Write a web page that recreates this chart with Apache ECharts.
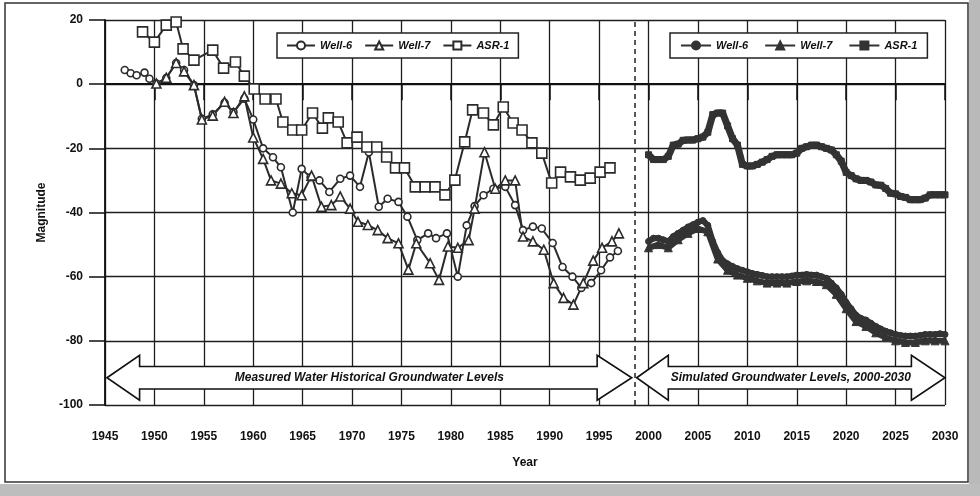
<!DOCTYPE html>
<html><head><meta charset="utf-8">
<script src="https://cdn.jsdelivr.net/npm/echarts@6/dist/echarts.min.js"></script>
<style>html,body{margin:0;padding:0;background:#fff}#c{width:980px;height:496px}</style>
</head><body><div id="c"></div>
<script>
// ---------- data ----------
const seriesNames = ['Well-6', 'Well-7', 'ASR-1'];
const simNames = ['Well-6 sim', 'Well-7 sim', 'ASR-1 sim'];
const yTicks = [-100, -80, -60, -40, -20, 0, 20];

// historical (measured)
const w6HistYears = [1947.0,1947.6,1948.2,1949.0,1949.5,1950.2,1951.2,1952.2,1953.0,1954.0,1954.8,1955.9,1957.1,1958.0,1959.1,1960.0,1961.0,1962.0,1962.8,1964.0,1964.9,1965.8,1966.7,1967.7,1968.8,1969.8,1970.8,1971.7,1972.7,1973.6,1974.7,1975.6,1976.6,1977.7,1978.5,1979.6,1980.7,1981.6,1982.4,1983.3,1984.3,1985.5,1986.5,1987.3,1988.3,1989.2,1990.3,1991.3,1992.3,1993.2,1994.2,1995.2,1996.1,1996.9];
const w6Hist = [4.4,3.4,2.8,3.6,1.7,0.2,1.9,6.6,4.4,-0.3,-10.8,-9.4,-5.8,-8.7,-4.5,-11,-20,-22.8,-25.9,-40,-26.4,-29,-30,-33.6,-29.5,-28.5,-32,-21.2,-38.2,-35.7,-36.7,-41.3,-48.6,-46.5,-48,-46.5,-60,-44,-38,-34.6,-32.6,-32,-37.7,-45.5,-44.4,-45,-49.5,-57,-60,-63.5,-62,-58,-54,-52];

const w7HistYears = [1950.2,1951.2,1952.2,1953.0,1954.0,1954.8,1955.9,1957.1,1958.0,1959.1,1960.0,1961.0,1961.8,1962.8,1963.9,1964.9,1965.9,1966.9,1967.9,1968.8,1969.8,1970.6,1971.6,1972.6,1973.6,1974.7,1975.7,1976.5,1977.9,1978.8,1979.7,1980.7,1981.8,1982.4,1983.4,1984.5,1985.5,1986.5,1987.3,1988.3,1989.4,1990.4,1991.4,1992.4,1993.4,1994.4,1995.3,1996.3,1997.0];
const w7Hist = [0.2,2,6.6,4,-0.3,-11,-9.8,-5.5,-9,-3.8,-16.6,-23.3,-30,-31,-34,-34.6,-28.5,-38.2,-37.7,-35,-38.8,-42.9,-43.9,-45.5,-48,-49.6,-57.8,-49.6,-55.8,-61,-50.6,-51,-48.6,-38.8,-21.2,-32.6,-30,-30,-47.5,-49,-51.6,-62,-66.6,-68.7,-62,-55,-51,-49,-46.5];

const w1HistYears = [1948.8,1950.0,1951.2,1952.2,1952.9,1954.0,1955.9,1957.0,1958.2,1959.1,1960.1,1961.2,1962.3,1963.0,1964.0,1964.9,1966.0,1967.0,1967.6,1968.6,1969.5,1970.5,1971.5,1972.5,1973.5,1974.4,1975.3,1976.4,1977.4,1978.4,1979.4,1980.4,1981.4,1982.2,1983.3,1984.3,1985.3,1986.3,1987.2,1988.2,1989.2,1990.2,1991.1,1992.1,1993.1,1994.1,1995.1,1996.1];
const w1Hist = [16.3,13.1,18.4,19.4,11,7.5,10.6,5,6.9,2.5,-1.5,-4.6,-4.6,-11.8,-14.3,-14.3,-9,-13.7,-10.5,-11.8,-18.3,-16.5,-19.6,-19.6,-22.7,-26.1,-26.1,-32,-32,-32,-34.5,-29.9,-18,-8,-9,-12.7,-7.1,-12.1,-14.3,-18.3,-21.5,-30.8,-27.4,-28.9,-29.9,-29.3,-27.4,-26.1];

// simulated
const simYearsHalf = [2000,2000.5,2001,2001.5,2002,2002.5,2003,2003.5,2004,2004.5,2005,2005.5,2006,2006.5,2007,2007.5,2008,2008.5,2009,2009.5,2010,2010.5,2011,2011.5,2012,2012.5,2013,2013.5,2014,2014.5,2015,2015.5,2016,2016.5,2017,2017.5,2018,2018.5,2019,2019.5,2020,2020.5,2021,2021.5,2022,2022.5,2023,2023.5,2024,2024.5,2025,2025.5,2026,2026.5,2027,2027.5,2028,2028.5,2029,2029.5,2030];
const w1Sim = [-22,-23.5,-23.5,-23.5,-22.5,-19,-18.7,-17.5,-17.4,-17.4,-17,-16.5,-15,-9.5,-9,-9,-13,-17,-19,-25,-25.5,-25.5,-25,-24.3,-23.5,-22.5,-22,-22,-22,-22,-21.5,-20,-19.5,-19,-19,-19.5,-20,-20.5,-22,-24,-27.5,-28.5,-29.5,-30,-30,-30.5,-31.4,-31.5,-32.5,-34,-34.2,-35,-35.3,-36,-36,-36,-35.5,-34.5,-34.5,-34.5,-34.5];
const w6Sim = [-49,-48,-48,-48.5,-49,-47.5,-46.5,-45.5,-44.5,-43.8,-43,-42.5,-44,-49,-52.5,-55,-56,-56.8,-57.5,-58,-58.5,-59,-59.3,-59.6,-60,-60,-60,-60,-60,-59.8,-59.5,-59.5,-59.3,-59.5,-59.5,-60,-60.5,-62,-63.5,-65.5,-68,-70,-72,-73,-73.5,-74.5,-75.5,-76.3,-77,-77.5,-78,-78.3,-78.5,-78.5,-78.5,-78.3,-78,-78,-78,-77.8,-78];
const simYearsAnnual = [2000,2001,2002,2003,2004,2005,2006,2007,2008,2009,2010,2011,2012,2013,2014,2015,2016,2017,2018,2019,2020,2021,2022,2023,2024,2025,2026,2027,2028,2029,2030];
const w7Sim = [-51,-50,-51,-48.5,-46.5,-45,-46,-54.5,-58,-59.5,-60.5,-61.3,-62,-62,-62,-61.5,-61.3,-61.5,-62.5,-65.5,-70,-74,-75.5,-77.5,-79,-80,-80.5,-80.5,-80,-80,-80];

const boundaryYear = 1998.6;
const histLabel = 'Measured Water Historical Groundwater Levels';
const simLabel = 'Simulated Groundwater Levels, 2000-2030';

// ---------- chart ----------
const zip = (xs, ys) => xs.map((x, i) => [x, ys[i]]);
const FONT = 'Liberation Sans, Arial, sans-serif';
const INK = '#2b2b2b';

const chart = echarts.init(document.getElementById('c'), null, {renderer: 'canvas'});

function histSeries(name, years, vals, symbol, size) {
  return {
    name, type: 'line', data: zip(years, vals), symbol, symbolSize: size,
    showSymbol: true, z: 3,
    lineStyle: {color: INK, width: 2},
    itemStyle: {color: '#fff', borderColor: INK, borderWidth: 1.6}
  };
}
function simSeries(name, years, vals, symbol, size, width) {
  return {
    name, type: 'line', data: zip(years, vals), symbol, symbolSize: size,
    showSymbol: true, z: 3,
    lineStyle: {color: '#333', width},
    itemStyle: {color: '#333', borderColor: '#333', borderWidth: 1}
  };
}

const legendText = {fontFamily: FONT, fontWeight: 'bold', fontStyle: 'italic', fontSize: 11, color: '#111'};

const s1 = histSeries(seriesNames[0], w6HistYears, w6Hist, 'circle', 7);
s1.markLine = {
  silent: true, symbol: ['none', 'none'], label: {show: false},
  lineStyle: {type: [5, 4], color: '#222', width: 1.5},
  data: [{xAxis: boundaryYear}]
};

chart.setOption({
  animation: false,
  backgroundColor: '#fff',
  grid: {left: 105, right: 35, top: 20, bottom: 91, containLabel: false},
  xAxis: {
    type: 'value', min: 1945, max: 2030, interval: 5,
    axisLine: {show: true, lineStyle: {color: '#111', width: 1.8}},
    axisTick: {show: true, length: 16, lineStyle: {color: '#111', width: 1.5}},
    axisLabel: {margin: 26, color: '#111', fontFamily: FONT, fontWeight: 'bold', fontSize: 12, formatter: v => String(v)},
    splitLine: {show: true, lineStyle: {color: '#1e1e1e', width: 1.3}},
    name: 'Year', nameLocation: 'middle', nameGap: 52,
    nameTextStyle: {fontFamily: FONT, fontWeight: 'bold', fontSize: 12, color: '#111'}
  },
  yAxis: {
    type: 'value', min: yTicks[0], max: yTicks[yTicks.length - 1], interval: 20,
    axisLine: {show: true, lineStyle: {color: '#111', width: 1.8}},
    axisTick: {show: true, length: 16, lineStyle: {color: '#111', width: 1.5}},
    axisLabel: {margin: 22, color: '#111', fontFamily: FONT, fontWeight: 'bold', fontSize: 12},
    splitLine: {show: true, lineStyle: {color: '#1e1e1e', width: 1.3}},
    name: 'Magnitude', nameLocation: 'middle', nameGap: 52, nameRotate: 90,
    nameTextStyle: {fontFamily: FONT, fontWeight: 'bold', fontSize: 12, color: '#111'}
  },
  legend: [
    {
      data: seriesNames, left: 277, top: 33, orient: 'horizontal',
      backgroundColor: '#fff', borderColor: '#222', borderWidth: 1.5, borderRadius: 0,
      padding: [7, 9], itemGap: 12, itemWidth: 28, itemHeight: 10,
      textStyle: legendText, selectedMode: false
    },
    {
      data: simNames, left: 670, top: 33, orient: 'horizontal',
      backgroundColor: '#fff', borderColor: '#222', borderWidth: 1.5, borderRadius: 0,
      padding: [7, 10], itemGap: 16, itemWidth: 30, itemHeight: 10,
      textStyle: legendText, selectedMode: false,
      formatter: n => n.replace(' sim', '')
    }
  ],
  series: [
    s1,
    histSeries(seriesNames[1], w7HistYears, w7Hist, 'triangle', 9),
    histSeries(seriesNames[2], w1HistYears, w1Hist, 'rect', 10),
    simSeries(simNames[0], simYearsHalf, w6Sim, 'circle', 6, 6),
    simSeries(simNames[1], simYearsAnnual, w7Sim, 'triangle', 8, 6),
    simSeries(simNames[2], simYearsHalf, w1Sim, 'rect', 6, 7)
  ]
});

// ---------- arrow banners (positioned through the axes) ----------
const P = (x, y) => chart.convertToPixel({gridIndex: 0}, [x, y]);
function arrow(x0, xb0, xb1, x1) {
  const yc = -91.5, hTop = -84.5, hBot = -98.5, bTop = -88, bBot = -95;
  const pts = [
    P(x0, yc), P(xb0, hTop), P(xb0, bTop), P(xb1, bTop), P(xb1, hTop),
    P(x1, yc), P(xb1, hBot), P(xb1, bBot), P(xb0, bBot), P(xb0, hBot)
  ];
  return {
    type: 'polygon', z: 20, shape: {points: pts},
    style: {fill: '#fff', stroke: '#111', lineWidth: 1.6}
  };
}
function label(text, xMid) {
  const p = P(xMid, -91.5);
  return {
    type: 'text', z: 21, x: p[0], y: p[1],
    style: {text, fill: '#111', font: 'italic bold 12px ' + FONT, align: 'center', verticalAlign: 'middle'}
  };
}
chart.setOption({
  graphic: [
    {type: 'rect', z: 0, shape: {x: 5, y: 3, width: 963, height: 479}, style: {fill: 'none', stroke: '#333', lineWidth: 1.5}},
    {type: 'rect', z: 0, shape: {x: 969, y: 0, width: 11, height: 496}, style: {fill: '#b9b9b9'}},
    {type: 'rect', z: 0, shape: {x: 0, y: 484, width: 980, height: 12}, style: {fill: '#bdbdbd'}},
    arrow(1945.2, 1948.5, 1994.8, 1998.3),
    arrow(1998.8, 2002.0, 2026.6, 2030.0),
    label(histLabel, (1945.2 + 1998.3) / 2),
    label(simLabel, (1998.8 + 2030) / 2)
  ]
});
</script>
</body></html>
